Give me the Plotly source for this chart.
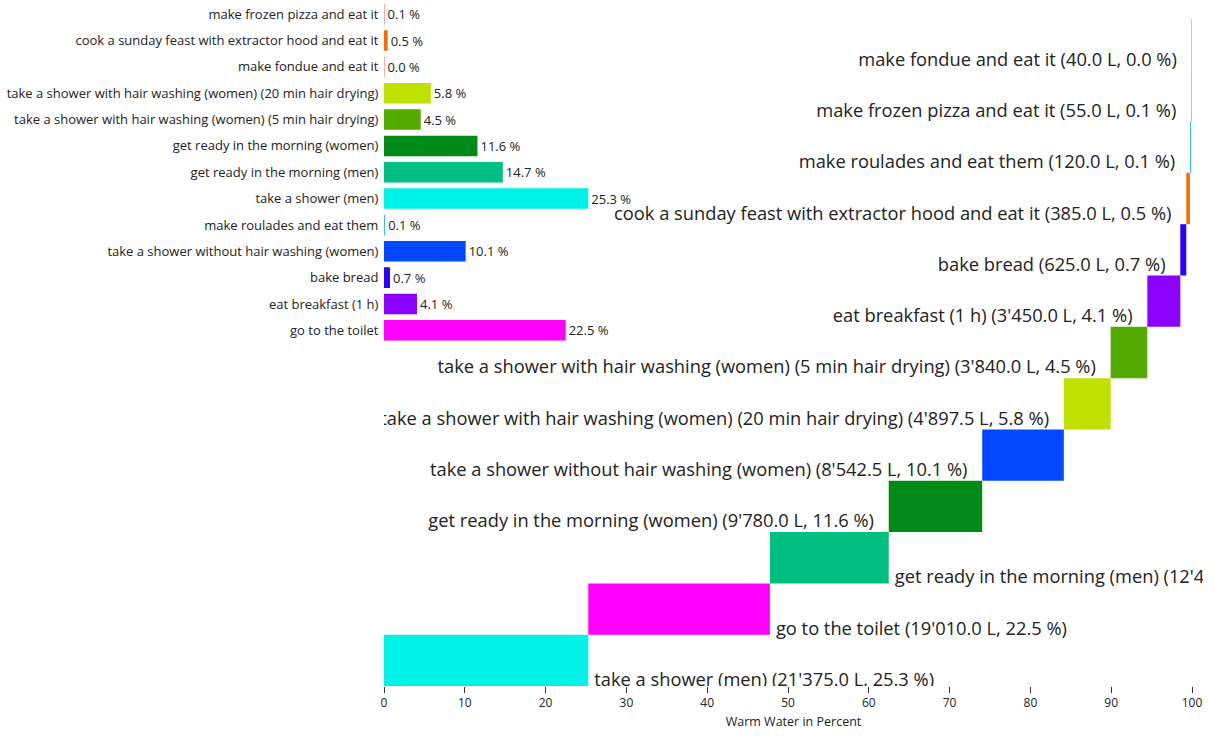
import plotly.graph_objects as go

# ---- data ----
activities = [
    "take a shower (men)",
    "go to the toilet",
    "get ready in the morning (men)",
    "get ready in the morning (women)",
    "take a shower without hair washing (women)",
    "take a shower with hair washing (women) (20 min hair drying)",
    "take a shower with hair washing (women) (5 min hair drying)",
    "eat breakfast (1 h)",
    "bake bread",
    "cook a sunday feast with extractor hood and eat it",
    "make roulades and eat them",
    "make frozen pizza and eat it",
    "make fondue and eat it",
]
liters = [21375.0, 19010.0, 12430.0, 9780.0, 8542.5, 4897.5, 3840.0,
          3450.0, 625.0, 385.0, 120.0, 55.0, 40.0]
colors = ["#00f2e6", "#ff00ff", "#00bf80", "#008a18", "#0048ff", "#c0e000",
          "#55aa00", "#8c00ff", "#2a00ff", "#ff6a00", "#40b8ff", "#ff5a5a",
          "#ff2a2a"]
left_order = [
    "make frozen pizza and eat it",
    "cook a sunday feast with extractor hood and eat it",
    "make fondue and eat it",
    "take a shower with hair washing (women) (20 min hair drying)",
    "take a shower with hair washing (women) (5 min hair drying)",
    "get ready in the morning (women)",
    "get ready in the morning (men)",
    "take a shower (men)",
    "make roulades and eat them",
    "take a shower without hair washing (women)",
    "bake bread",
    "eat breakfast (1 h)",
    "go to the toilet",
]
x_title = "Warm Water in Percent"

# ---- derived ----
FONT = "'Open Sans', 'Noto Sans', sans-serif"
TXT = "#222222"
total = sum(liters)
pct = [v / total * 100 for v in liters]
starts, acc = [], 0.0
for p in pct:
    starts.append(acc)
    acc += p
ends = [s + p for s, p in zip(starts, pct)]


def rgba(hexcol, a=0.999):
    # near-opaque colour -> plotly rounds bar edges to whole pixels
    h = hexcol.lstrip("#")
    r, g, b = (int(h[i:i + 2], 16) for i in (0, 2, 4))
    return f"rgba({r},{g},{b},{a})"


cmap = dict(zip(activities, colors))
pmap = dict(zip(activities, pct))


def fmt_l(v):
    return f"{v:,.1f}".replace(",", "'")


fig = go.Figure()

# left: plain horizontal bar chart
fig.add_trace(go.Bar(
    orientation="h",
    y=left_order,
    x=[pmap[a] for a in left_order],
    marker=dict(color=[rgba(cmap[a]) for a in left_order], line=dict(width=0)),
    width=0.78,
    text=[f"{pmap[a]:.1f} %" for a in left_order],
    textposition="outside",
    textfont=dict(size=13, color=TXT, family=FONT),
    cliponaxis=False,
    xaxis="x", yaxis="y",
    hoverinfo="skip",
))

# right: cumulative (waterfall-like) bars
idx = list(range(len(activities)))
fig.add_trace(go.Bar(
    orientation="h",
    y=idx,
    x=pct,
    base=starts,
    width=1,
    marker=dict(color=[rgba(c) for c in colors], line=dict(width=0)),
    xaxis="x", yaxis="y2",
    hoverinfo="skip",
))

labels = [f"{a} ({fmt_l(v)} L, {p:.1f} %)" for a, v, p in zip(activities, liters, pct)]
right_side = [e < 70 for e in ends]

fig.add_trace(go.Scatter(
    x=[s for s, r in zip(starts, right_side) if not r],
    y=[i - 0.32 for i, r in zip(idx, right_side) if not r],
    text=[t for t, r in zip(labels, right_side) if not r],
    mode="markers+text",
    marker=dict(size=22, opacity=0),
    textposition="middle left",
    textfont=dict(size=18.3, color=TXT, family=FONT),
    xaxis="x", yaxis="y2",
    hoverinfo="skip",
))
fig.add_trace(go.Scatter(
    x=[e for e, r in zip(ends, right_side) if r],
    y=[i - 0.41 for i, r in zip(idx, right_side) if r],
    text=[t for t, r in zip(labels, right_side) if r],
    mode="markers+text",
    marker=dict(size=8, opacity=0),
    textposition="middle right",
    textfont=dict(size=18.3, color=TXT, family=FONT),
    xaxis="x", yaxis="y2",
    hoverinfo="skip",
))

fig.update_layout(
    width=1214, height=738,
    margin=dict(l=384, r=11, t=1, b=52),
    paper_bgcolor="white", plot_bgcolor="rgba(0,0,0,0)",
    showlegend=False,
    font=dict(family=FONT, color=TXT),
    xaxis=dict(domain=[0, 1], anchor="y2", range=[0, 101.36],
               tickvals=list(range(0, 101, 10)), ticks="outside", ticklen=6,
               tickcolor="#333333", tickfont=dict(size=12, color=TXT),
               showgrid=False, zeroline=False, showline=False,
               title=dict(text=x_title, font=dict(size=12.5, color=TXT), standoff=6)),
    yaxis=dict(domain=[0.5, 1], anchor="x", type="category",
               categoryorder="array", categoryarray=left_order,
               autorange="reversed", showgrid=False, zeroline=False,
               ticks="outside", ticklen=2, tickcolor="rgba(0,0,0,0)",
               tickfont=dict(size=13, color=TXT)),
    yaxis2=dict(domain=[0, 1], anchor="x", range=[-0.5, 12.85],
                showticklabels=False, showgrid=False, zeroline=False,
                showline=False),
)

fig.write_html("out.html",
               config={"displayModeBar": False},
               post_script="document.body.style.margin='0';document.body.style.overflow='hidden';")
